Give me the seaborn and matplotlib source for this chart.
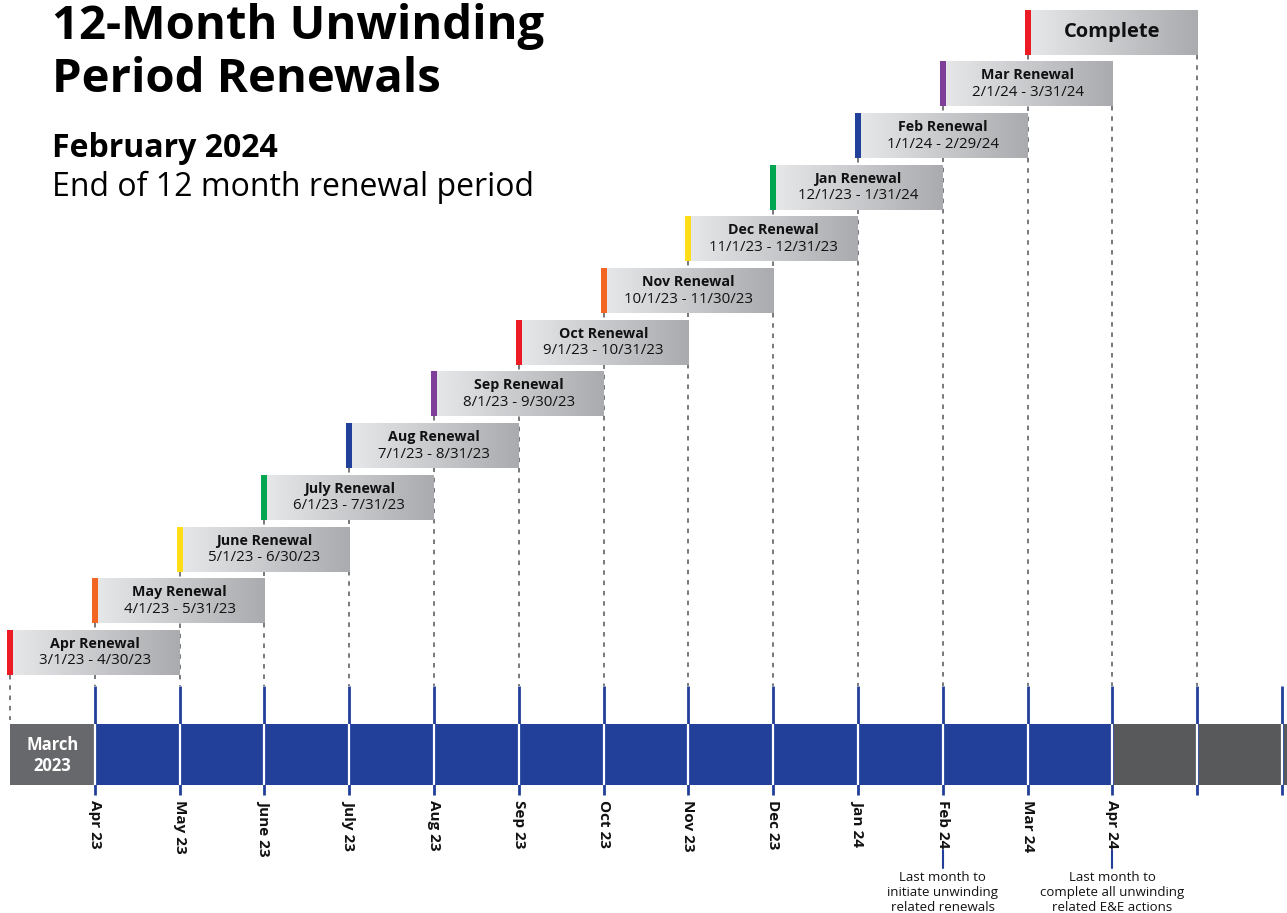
import numpy as np
import matplotlib
matplotlib.use("Agg")
import matplotlib.pyplot as plt
from matplotlib.colors import LinearSegmentedColormap
from matplotlib.patches import Rectangle
import seaborn as sns

# ---------------- data ----------------
renewal_names = ["Apr Renewal", "May Renewal", "June Renewal", "July Renewal",
                 "Aug Renewal", "Sep Renewal", "Oct Renewal", "Nov Renewal",
                 "Dec Renewal", "Jan Renewal", "Feb Renewal", "Mar Renewal",
                 "Complete"]
date_ranges = ["3/1/23 - 4/30/23", "4/1/23 - 5/31/23", "5/1/23 - 6/30/23",
               "6/1/23 - 7/31/23", "7/1/23 - 8/31/23", "8/1/23 - 9/30/23",
               "9/1/23 - 10/31/23", "10/1/23 - 11/30/23", "11/1/23 - 12/31/23",
               "12/1/23 - 1/31/24", "1/1/24 - 2/29/24", "2/1/24 - 3/31/24", ""]
start_month = [0, 1, 2, 3, 4, 5, 6, 7, 8, 9, 10, 11, 12]   # months after Mar 2023
duration = [2, 2, 2, 2, 2, 2, 2, 2, 2, 2, 2, 2, 2]
accent_colors = ["#ed1c24", "#f26522", "#ffde17", "#00a651", "#21409a", "#7f3f98",
                 "#ed1c24", "#f26522", "#ffde17", "#00a651", "#21409a", "#7f3f98",
                 "#ed1c24"]
month_labels = ["Apr 23", "May 23", "June 23", "July 23", "Aug 23", "Sep 23",
                "Oct 23", "Nov 23", "Dec 23", "Jan 24", "Feb 24", "Mar 24", "Apr 24"]
month_label_pos = [1, 2, 3, 4, 5, 6, 7, 8, 9, 10, 11, 12, 13]
active_start, active_end = 1, 13      # blue section of the timeline
n_months = 15
notes = [(11, "Last month to\ninitiate unwinding\nrelated renewals"),
         (13, "Last month to\ncomplete all unwinding\nrelated E&E actions")]

# ---------------- style ----------------
sns.set_theme(style="white")
plt.rcParams["font.family"] = ["Open Sans", "DejaVu Sans"]

W, H = 1287, 913
fig = plt.figure(figsize=(W / 100, H / 100), dpi=100)
ax = fig.add_axes([0, 0, 1, 1])
ax.axis("off")

MW = 84.8          # pixels per month
X0 = 10            # pixel of month 0
px = 1.0 / MW      # one pixel in month units

BLUE = "#22409a"
DASH = "#6d6e71"
cmap = LinearSegmentedColormap.from_list("g", ["#e6e7e9", "#a9abae"])
grad = np.linspace(0, 1, 256).reshape(1, -1)

bar_h = 45
row_top = [630 - 51.7 * k for k in range(len(renewal_names))]
bar_bottom = [t + bar_h for t in row_top]

TL_TOP, TL_BOT = 724, 785
TICK_TOP, TICK_BOT = 686, 795

# dashed guide lines
for m in range(n_months):
    bottoms = [b for b, s, d in zip(bar_bottom, start_month, duration) if s == m or s + d == m]
    if not bottoms:
        continue
    top = min(bottoms)
    end = 720 if m == 0 else TICK_TOP
    ax.plot([m, m], [top, end], color=DASH, lw=1.3, ls=(0, (2.5, 3.2)), zorder=1)

# renewal bars
for k, (name, dr, s, d, c) in enumerate(zip(renewal_names, date_ranges, start_month,
                                              duration, accent_colors)):
    t, b = row_top[k], bar_bottom[k]
    ax.imshow(grad, extent=(s + 3 * px, s + d, b, t), cmap=cmap, aspect="auto",
              zorder=3, interpolation="bicubic")
    ax.add_patch(Rectangle((s - 3 * px, t), 6 * px, bar_h, facecolor=c,
                           edgecolor="none", zorder=4))
    cx = s + d / 2
    if dr:
        ax.text(cx, t + 14, name, ha="center", va="center", fontsize=10.3,
                fontweight="bold", color="#111111", zorder=5)
        ax.text(cx, t + 31, dr, ha="center", va="center", fontsize=10.8,
                color="#111111", zorder=5)
    else:
        ax.text(cx, t + bar_h / 2, name, ha="center", va="center", fontsize=14.5,
                fontweight="bold", color="#111111", zorder=5)

# timeline
ax.add_patch(Rectangle((0, TL_TOP), active_start, TL_BOT - TL_TOP,
                       facecolor="#67686b", edgecolor="none", zorder=2))
ax.add_patch(Rectangle((active_start, TL_TOP), active_end - active_start, TL_BOT - TL_TOP,
                       facecolor=BLUE, edgecolor="none", zorder=2))
ax.add_patch(Rectangle((active_end, TL_TOP), n_months + 1 - active_end, TL_BOT - TL_TOP,
                       facecolor="#58595b", edgecolor="none", zorder=2))
ax.text(active_start / 2, (TL_TOP + TL_BOT) / 2 + 1, "March\n2023", ha="center",
        va="center", fontsize=12, fontweight="bold", color="white", linespacing=1.25,
        zorder=5)

for m in range(1, n_months + 1):
    ax.plot([m, m], [TICK_TOP, TICK_BOT], color=BLUE, lw=2, zorder=3,
            solid_capstyle="butt")
    ax.plot([m, m], [TL_TOP, TL_BOT], color="white", lw=1.6, zorder=3.5,
            solid_capstyle="butt")

for lab, m in zip(month_labels, month_label_pos):
    ax.text(m, 800, lab, rotation=270, ha="center", va="top", fontsize=11,
            fontweight="bold", color="#111111")

for m, txt in notes:
    ax.plot([m, m], [850, 868], color=BLUE, lw=1.5, zorder=3)
    ax.text(m, 871, txt, ha="center", va="top", fontsize=9.5, color="#111111",
            linespacing=1.22)

# titles
tx = (52 - X0) * px
ax.text(tx, 39, "12-Month Unwinding", ha="left", va="baseline", fontsize=34,
        fontweight="bold", color="black")
ax.text(tx, 92, "Period Renewals", ha="left", va="baseline", fontsize=34,
        fontweight="bold", color="black")
ax.text(tx, 157, "February 2024", ha="left", va="baseline",
        fontsize=23, fontweight="bold", color="black")
ax.text(tx, 196, "End of 12 month renewal period", ha="left",
        va="baseline", fontsize=23, color="black")

ax.set_xlim(-X0 * px, (W - X0) * px)
ax.set_ylim(H, 0)

fig.savefig("out.png", dpi=100)
